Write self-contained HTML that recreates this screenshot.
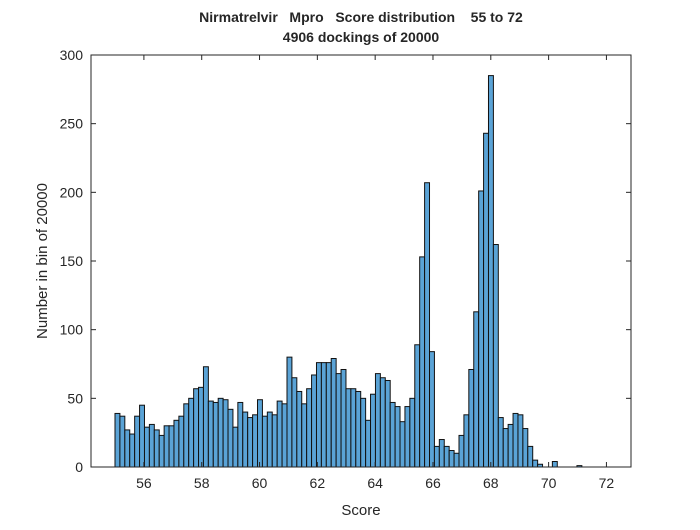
<!DOCTYPE html>
<html><head><meta charset="utf-8"><style>
body{margin:0;background:#fff;}
svg text{font-family:"Liberation Sans",Arial,sans-serif;fill:#262626;}
.pre{white-space:pre;}
</style></head><body>
<svg id="chart" width="700" height="525">
<rect x="0" y="0" width="700" height="525" fill="#fff"/>
<g id="bars"></g>
<rect x="91" y="55" width="540" height="412" fill="none" stroke="#262626" stroke-width="1"/>
<g id="ticks"></g>
<text class="pre" xml:space="preserve" x="361" y="22" text-anchor="middle" font-size="14" font-weight="bold">Nirmatrelvir   Mpro   Score distribution    55 to 72</text>
<text x="361" y="42" text-anchor="middle" font-size="14" font-weight="bold">4906 dockings of 20000</text>
<text x="361" y="515" text-anchor="middle" font-size="15">Score</text>
<text transform="translate(47,261) rotate(-90)" text-anchor="middle" font-size="15">Number in bin of 20000</text>
</svg>
<script>
const binStart = 55;
const binWidth = 0.17;
const counts = [39,37,27,24,37,45,29,31,27,23,30,30,34,37,46,50,57,58,73,48,47,50,49,42,29,47,40,36,38,49,37,40,38,48,46,80,65,55,46,57,67,76,76,76,79,68,71,57,57,55,50,34,53,68,65,63,47,44,33,44,50,89,153,207,84,15,20,15,12,10,23,38,71,113,201,243,285,162,36,28,31,39,38,28,15,5,2,0,0,4,0,0,0,0,1,0,0,0,0,0];
const xTicks = [56,58,60,62,64,66,68,70,72];
const yTicks = [0,50,100,150,200,250,300];
const xMin = 54.17, xMax = 72.85, yMin = 0, yMax = 300;
const L=91,R=631,T=55,B=467;
function xs(v){return L+(v-xMin)/(xMax-xMin)*(R-L);}
function ys(v){return B-(v-yMin)/(yMax-yMin)*(B-T);}
const NS="http://www.w3.org/2000/svg";
const bg=document.getElementById('bars');
counts.forEach((c,i)=>{
  if(c<=0) return;
  const x0=xs(binStart+i*binWidth), x1=xs(binStart+(i+1)*binWidth);
  const r=document.createElementNS(NS,'rect');
  r.setAttribute('x',x0);r.setAttribute('width',x1-x0);
  r.setAttribute('y',ys(c));r.setAttribute('height',ys(0)-ys(c));
  r.setAttribute('fill','#5AA3D6');r.setAttribute('stroke','#111');r.setAttribute('stroke-width','1');
  
  
  bg.appendChild(r);
});
const tg=document.getElementById('ticks');
xTicks.forEach(v=>{
  const x=xs(v);
  [[B,B-5],[T,T+5]].forEach(([a,b])=>{
    const l=document.createElementNS(NS,'line');
    l.setAttribute('x1',x);l.setAttribute('x2',x);l.setAttribute('y1',a);l.setAttribute('y2',b);l.setAttribute('stroke','#262626');
    tg.appendChild(l);
  });
  const t=document.createElementNS(NS,'text');
  t.setAttribute('x',x);t.setAttribute('y',B+21);t.setAttribute('text-anchor','middle');t.setAttribute('font-size','14');
  t.textContent=v;
  
  
  tg.appendChild(t);
});
yTicks.forEach(v=>{
  const y=ys(v);
  [[L,L+5],[R,R-5]].forEach(([a,b])=>{
    const l=document.createElementNS(NS,'line');
    l.setAttribute('y1',y);l.setAttribute('y2',y);l.setAttribute('x1',a);l.setAttribute('x2',b);l.setAttribute('stroke','#262626');
    tg.appendChild(l);
  });
  const t=document.createElementNS(NS,'text');
  t.setAttribute('x',L-8);t.setAttribute('y',y+5);t.setAttribute('text-anchor','end');t.setAttribute('font-size','14');
  t.textContent=v;
  
  
  tg.appendChild(t);
});
</script>
</body></html>
